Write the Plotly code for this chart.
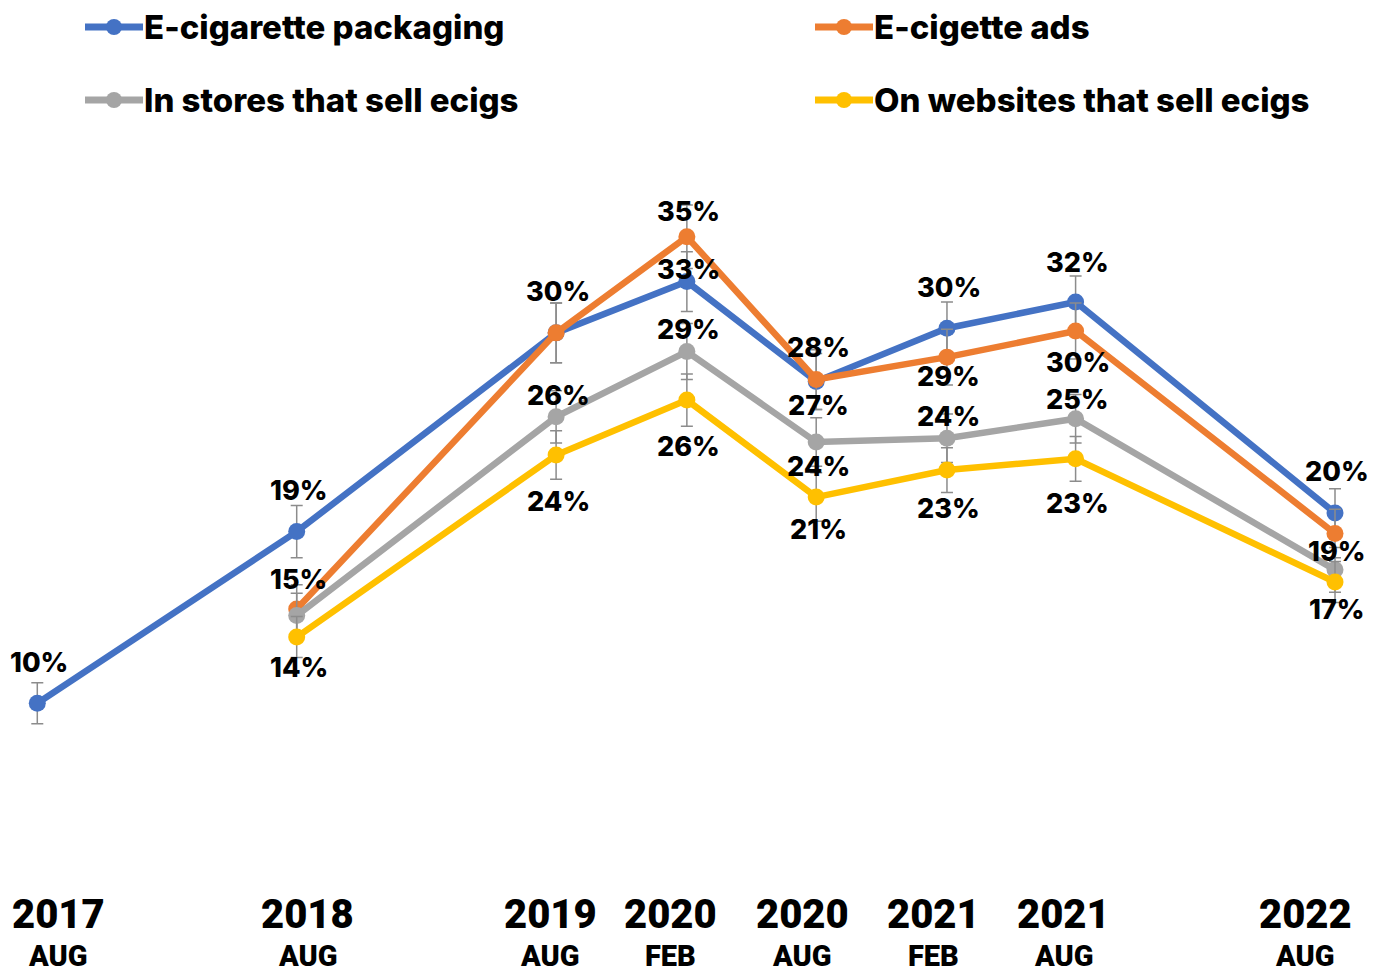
import pandas as pd
import plotly.graph_objects as go

# survey waves
dates = ['2017-08-01', '2018-08-01', '2019-08-01', '2020-02-01',
         '2020-08-01', '2021-02-01', '2021-08-01', '2022-08-01']
years = ['2017', '2018', '2019', '2020', '2020', '2021', '2021', '2022']
months = ['AUG', 'AUG', 'AUG', 'FEB', 'AUG', 'FEB', 'AUG', 'AUG']

# percent of respondents
packaging = [10.0, 19.2, 29.85, 32.6, 27.25, 30.1, 31.5, 20.2]
ads = [None, 15.05, 29.85, 35.0, 27.35, 28.55, 29.95, 19.1]
stores = [None, 14.7, 25.35, 28.85, 24.0, 24.2, 25.25, 17.15]
websites = [None, 13.55, 23.3, 26.25, 21.05, 22.5, 23.1, 16.5]

packaging_err = [1.1, 1.4, 1.6, 1.6, 1.5, 1.4, 1.4, 1.3]
ads_err = [None, 1.3, 1.6, 1.7, 1.6, 1.5, 1.5, 1.3]
stores_err = [None, 1.2, 1.4, 1.5, 1.3, 1.3, 1.3, 1.2]
websites_err = [None, 1.1, 1.3, 1.4, 1.3, 1.2, 1.2, 1.1]

packaging_lbl = ['10%', '19%', '30%', '33%', '27%', '30%', '32%', '20%']
ads_lbl = [None, '15%', None, '35%', '28%', '29%', '30%', '19%']
stores_lbl = [None, None, '26%', '29%', '24%', '24%', '25%', None]
websites_lbl = [None, '14%', '24%', '26%', '21%', '23%', '23%', '17%']

series = [
    ('E-cigarette packaging', packaging, packaging_err, packaging_lbl, '#4472C4'),
    ('E-cigette ads', ads, ads_err, ads_lbl, '#ED7D31'),
    ('In stores that sell ecigs', stores, stores_err, stores_lbl, '#A5A5A5'),
    ('On websites that sell ecigs', websites, websites_err, websites_lbl, '#FFC000'),
]

# label offsets in pixels (positive = below the marker)
label_shift = [
    [-41, -41, -41, -12, 24, -41, -40, -41],
    [0, -30, 0, -25, -32, 19, 31, 18],
    [0, 0, -21, -22, 24, -22, -19, 0],
    [0, 30, 46, 46, 32, 38, 45, 28],
]
tick_shift = [21, 11, -6, -16, -14, -13, -12, -30]

W, H = 1380, 970
TOP, BOTTOM = 150, 90
FONT = 'Inter'

fig = go.Figure()
for name, vals, err, lbl, color in series:
    fig.add_trace(go.Scatter(
        x=dates, y=vals, name=name, mode='lines+markers',
        line=dict(color=color, width=6.5),
        marker=dict(color=color, size=17),
        error_y=dict(type='data', array=err, color='#8c8c8c', thickness=1.5, width=6),
        cliponaxis=False, connectgaps=False, showlegend=False,
    ))

# data labels
annotations = []
for (name, vals, err, lbl, color), shifts in zip(series, label_shift):
    for d, v, t, s in zip(dates, vals, lbl, shifts):
        if t is None:
            continue
        annotations.append(dict(x=d, y=v, text=t, showarrow=False, xshift=2, yshift=-s,
                                font=dict(family=FONT, size=27, color='black', weight=800)))

# category labels under the plot
for d, yr, mo, xs in zip(dates, years, months, tick_shift):
    annotations.append(dict(x=d, y=0, xref='x', yref='paper', text=yr,
                            showarrow=False, xshift=xs, yshift=-34, yanchor='middle',
                            font=dict(family='Roboto', size=40, color='black', weight=900)))
    annotations.append(dict(x=d, y=0, xref='x', yref='paper', text=mo,
                            showarrow=False, xshift=xs, yshift=-76, yanchor='middle',
                            font=dict(family='Roboto', size=29, color='black', weight=900)))


# hand-made legend, two columns
def py(p):
    return (H - BOTTOM - p) / (H - TOP - BOTTOM)


shapes = []
legend_pos = [(85, 27), (815, 27), (85, 100), (815, 100)]
for (name, vals, err, lbl, color), (lx, ly) in zip(series, legend_pos):
    shapes.append(dict(type='line', xref='paper', yref='paper', x0=lx / W, x1=(lx + 58) / W,
                       y0=py(ly), y1=py(ly), line=dict(color=color, width=7)))
    shapes.append(dict(type='circle', xref='paper', yref='paper', xsizemode='pixel', ysizemode='pixel',
                       xanchor=(lx + 29) / W, yanchor=py(ly), x0=-8, x1=8, y0=-8, y1=8,
                       fillcolor=color, line=dict(width=0)))
    annotations.append(dict(x=(lx + 57) / W, y=py(ly), xref='paper', yref='paper',
                            text=name, showarrow=False, xanchor='left', yanchor='middle',
                            font=dict(family=FONT, size=33, color='black', weight=800)))

# x range so the first and last waves land where they sit in the original
start, end = pd.Timestamp(dates[0]), pd.Timestamp(dates[-1])
days_per_px = (end - start).days / (1335 - 37.3)
x0 = start - pd.Timedelta(days=37.3 * days_per_px)
x1 = end + pd.Timedelta(days=(W - 1335) * days_per_px)

fig.update_layout(
    width=W, height=H,
    margin=dict(l=0, r=0, t=TOP, b=BOTTOM),
    paper_bgcolor='white', plot_bgcolor='white',
    xaxis=dict(type='date', range=[x0, x1], showgrid=False, zeroline=False,
               showticklabels=False, showline=False),
    yaxis=dict(range=[0.53, 39.65], showgrid=False, zeroline=False,
               showticklabels=False, showline=False),
    annotations=annotations,
    shapes=shapes,
    font=dict(family=FONT),
)

# drop the browser's default body margin so the figure sits at the page corner
fig.write_html('out.html', config={'displayModeBar': False},
               post_script="document.body.style.margin='0';")
